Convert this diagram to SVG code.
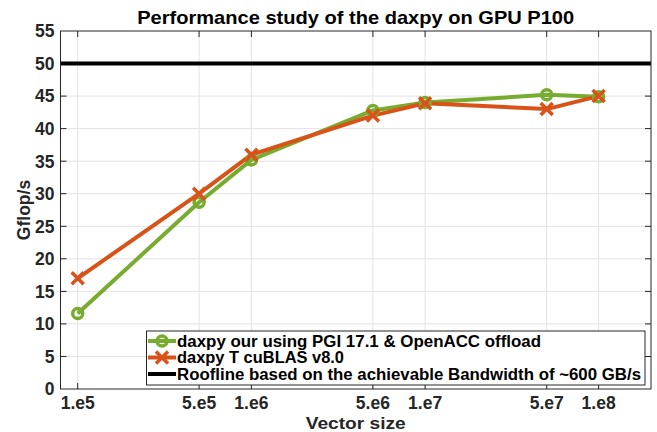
<svg xmlns="http://www.w3.org/2000/svg" width="657" height="432" viewBox="0 0 657 432">
<defs>
<style>
text{font-family:"Liberation Sans",Arial,sans-serif;font-weight:bold;fill:#262626}
.t{font-size:17.5px}
.yt{text-anchor:end}
.xt{text-anchor:middle}
.lg{font-size:16.5px;fill:#000}
.grid line{stroke:#e3e3e3;stroke-width:1}
.tick line{stroke:#262626;stroke-width:1}
.g{fill:none;stroke:#77AC30;stroke-width:4;stroke-linejoin:round}
.o{fill:none;stroke:#D95319;stroke-width:4;stroke-linejoin:round}
.mg{fill:none;stroke:#77AC30;stroke-width:3.5}
.mo{fill:none;stroke:#D95319;stroke-width:3.5;stroke-linecap:butt}
</style>
<g id="xm"><path d="M-6,-6L6,6M-6,6L6,-6"/></g>
</defs>
<rect width="657" height="432" fill="#fff"/>
<g id="plot-area">
<rect x="60.5" y="31" width="590.5" height="358" fill="#fff"/>
<g class="grid">
<line x1="77.7" y1="31" x2="77.7" y2="389"/>
<line x1="199.1" y1="31" x2="199.1" y2="389"/>
<line x1="251.4" y1="31" x2="251.4" y2="389"/>
<line x1="372.9" y1="31" x2="372.9" y2="389"/>
<line x1="425.1" y1="31" x2="425.1" y2="389"/>
<line x1="546.7" y1="31" x2="546.7" y2="389"/>
<line x1="598.6" y1="31" x2="598.6" y2="389"/>
<line x1="60.5" y1="356.5" x2="651" y2="356.5"/>
<line x1="60.5" y1="323.9" x2="651" y2="323.9"/>
<line x1="60.5" y1="291.4" x2="651" y2="291.4"/>
<line x1="60.5" y1="258.8" x2="651" y2="258.8"/>
<line x1="60.5" y1="226.3" x2="651" y2="226.3"/>
<line x1="60.5" y1="193.7" x2="651" y2="193.7"/>
<line x1="60.5" y1="161.2" x2="651" y2="161.2"/>
<line x1="60.5" y1="128.6" x2="651" y2="128.6"/>
<line x1="60.5" y1="96.1" x2="651" y2="96.1"/>
</g>
</g>
<g id="connectors">
<line id="roofline" x1="60.5" y1="63.5" x2="651" y2="63.5" stroke="#000" stroke-width="4"/>
<polyline id="series-openacc" class="g" points="77.7,313.5 199.1,202.2 251.4,159.9 372.9,110.4 425.1,102.6 546.7,94.8 598.6,96.7"/>
<polyline id="series-cublas" class="o" points="77.7,278.3 199.1,193.7 251.4,154.7 372.9,115.6 425.1,103.3 546.7,109.1 598.6,96.1"/>
</g>
<g id="markers-openacc" class="mg">
<circle cx="77.7" cy="313.5" r="5"/>
<circle cx="199.1" cy="202.2" r="5"/>
<circle cx="251.4" cy="159.9" r="5"/>
<circle cx="372.9" cy="110.4" r="5"/>
<circle cx="425.1" cy="102.6" r="5"/>
<circle cx="546.7" cy="94.8" r="5"/>
<circle cx="598.6" cy="96.7" r="5"/>
</g>
<g id="markers-cublas" class="mo">
<use href="#xm" x="77.7" y="278.3"/>
<use href="#xm" x="199.1" y="193.7"/>
<use href="#xm" x="251.4" y="154.7"/>
<use href="#xm" x="372.9" y="115.6"/>
<use href="#xm" x="425.1" y="103.3"/>
<use href="#xm" x="546.7" y="109.1"/>
<use href="#xm" x="598.6" y="96.1"/>
</g>
<g id="axes">
<rect x="60.5" y="31" width="590.5" height="358" fill="none" stroke="#262626" stroke-width="1"/>
<g class="tick">
<line x1="77.7" y1="389" x2="77.7" y2="383"/><line x1="199.1" y1="389" x2="199.1" y2="383"/><line x1="251.4" y1="389" x2="251.4" y2="383"/><line x1="372.9" y1="389" x2="372.9" y2="383"/><line x1="425.1" y1="389" x2="425.1" y2="383"/><line x1="546.7" y1="389" x2="546.7" y2="383"/><line x1="598.6" y1="389" x2="598.6" y2="383"/>
<line x1="77.7" y1="31" x2="77.7" y2="37"/><line x1="199.1" y1="31" x2="199.1" y2="37"/><line x1="251.4" y1="31" x2="251.4" y2="37"/><line x1="372.9" y1="31" x2="372.9" y2="37"/><line x1="425.1" y1="31" x2="425.1" y2="37"/><line x1="546.7" y1="31" x2="546.7" y2="37"/><line x1="598.6" y1="31" x2="598.6" y2="37"/>
<line x1="60.5" y1="356.5" x2="66.5" y2="356.5"/><line x1="60.5" y1="323.9" x2="66.5" y2="323.9"/><line x1="60.5" y1="291.4" x2="66.5" y2="291.4"/><line x1="60.5" y1="258.8" x2="66.5" y2="258.8"/><line x1="60.5" y1="226.3" x2="66.5" y2="226.3"/><line x1="60.5" y1="193.7" x2="66.5" y2="193.7"/><line x1="60.5" y1="161.2" x2="66.5" y2="161.2"/><line x1="60.5" y1="128.6" x2="66.5" y2="128.6"/><line x1="60.5" y1="96.1" x2="66.5" y2="96.1"/>
<line x1="651" y1="356.5" x2="645" y2="356.5"/><line x1="651" y1="323.9" x2="645" y2="323.9"/><line x1="651" y1="291.4" x2="645" y2="291.4"/><line x1="651" y1="258.8" x2="645" y2="258.8"/><line x1="651" y1="226.3" x2="645" y2="226.3"/><line x1="651" y1="193.7" x2="645" y2="193.7"/><line x1="651" y1="161.2" x2="645" y2="161.2"/><line x1="651" y1="128.6" x2="645" y2="128.6"/><line x1="651" y1="96.1" x2="645" y2="96.1"/>
</g>
<g class="t yt">
<text x="54.5" y="37.3">55</text>
<text x="54.5" y="69.8">50</text>
<text x="54.5" y="102.4">45</text>
<text x="54.5" y="134.9">40</text>
<text x="54.5" y="167.5">35</text>
<text x="54.5" y="200">30</text>
<text x="54.5" y="232.6">25</text>
<text x="54.5" y="265.1">20</text>
<text x="54.5" y="297.7">15</text>
<text x="54.5" y="330.2">10</text>
<text x="54.5" y="362.8">5</text>
<text x="54.5" y="395.3">0</text>
</g>
<g class="t xt">
<text x="77.7" y="408.5">1.e5</text>
<text x="199.1" y="408.5">5.e5</text>
<text x="251.4" y="408.5">1.e6</text>
<text x="372.9" y="408.5">5.e6</text>
<text x="425.1" y="408.5">1.e7</text>
<text x="546.7" y="408.5">5.e7</text>
<text x="598.6" y="408.5">1.e8</text>
</g>
<text x="355.7" y="429" class="xt" style="font-size:17px" textLength="100" lengthAdjust="spacingAndGlyphs">Vector size</text>
<text transform="translate(30,210) rotate(-90)" class="t xt">Gflop/s</text>
<text x="355.7" y="23.5" class="xt" style="font-size:19px;fill:#000" textLength="437" lengthAdjust="spacingAndGlyphs">Performance study of the daxpy on GPU P100</text>
</g>
<g id="legend">
<rect x="146.5" y="331" width="498.5" height="54" fill="#fff" stroke="#262626" stroke-width="1"/>
<line x1="148" y1="341" x2="176" y2="341" class="g"/>
<circle cx="162" cy="341" r="5" class="mg"/>
<line x1="148" y1="357.5" x2="176" y2="357.5" class="o"/>
<use href="#xm" x="162" y="357.5" class="mo"/>
<line x1="148" y1="374" x2="176" y2="374" stroke="#000" stroke-width="4"/>
<text x="177" y="346.8" class="lg" textLength="364" lengthAdjust="spacingAndGlyphs">daxpy our using PGI 17.1 &amp; OpenACC offload</text>
<text x="177" y="363.3" class="lg" textLength="167" lengthAdjust="spacingAndGlyphs">daxpy T cuBLAS v8.0</text>
<text x="177" y="379.8" class="lg" textLength="464" lengthAdjust="spacingAndGlyphs">Roofline based on the achievable Bandwidth of ~600 GB/s</text>
</g>
</svg>
